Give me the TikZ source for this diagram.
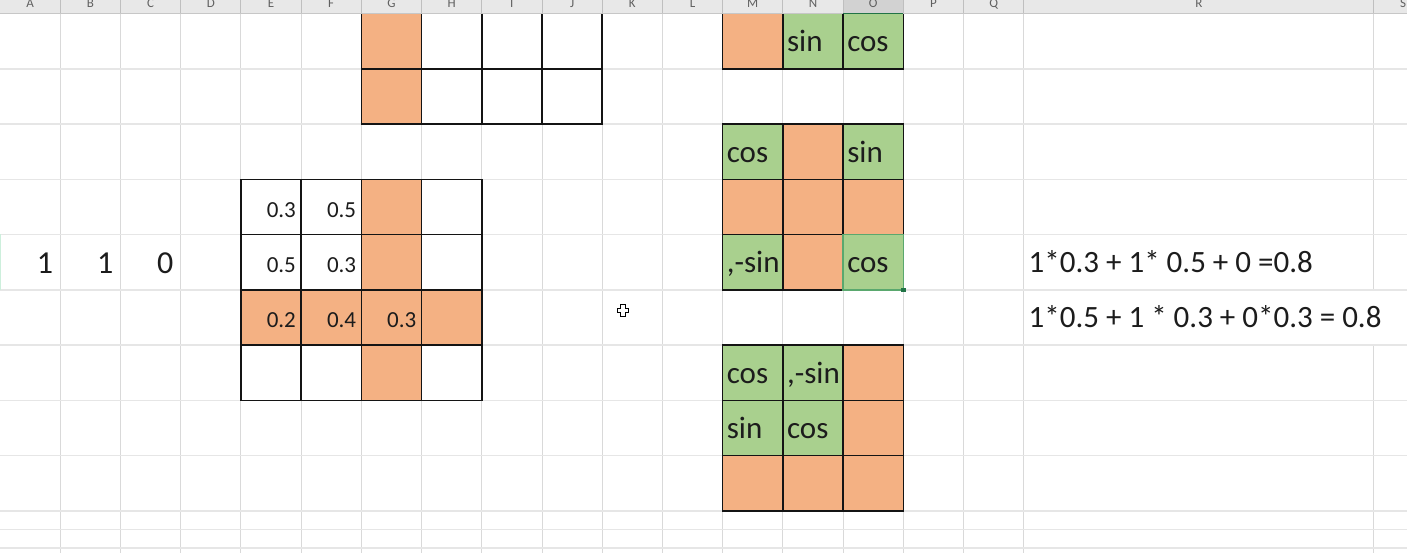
\documentclass[tikz,border=0pt]{standalone}
\usepackage{fontspec}
\setmainfont{Carlito}
\usetikzlibrary{calc}
\definecolor{orng}{HTML}{F4B183}
\definecolor{grn}{HTML}{A9D08E}
\definecolor{vline}{HTML}{D9D9D9}
\definecolor{hline}{HTML}{E6E6E6}
\definecolor{hdr}{HTML}{E8E8E8}
\definecolor{hdrsel}{HTML}{D2D2D2}
\definecolor{hdrtext}{HTML}{606060}
\definecolor{selg}{HTML}{5AA86E}
\definecolor{seldark}{HTML}{217346}
\definecolor{mint}{HTML}{CDEFDC}
\definecolor{ink}{HTML}{1C1C1C}
\newcommand\xcell[4]{\node[cellbox,#4] (#1) at ({#2*60.22},{13.5+#3*55.27}) {};}
\newcommand\ltext[2]{\node[bigtxt,anchor=base west] (t#1) at ($(#1.north west)+(4,38)$) {#2};}
\newcommand\rtext[2]{\node[smalltxt,anchor=base east] (t#1) at ($(#1.north east)+(-5,38)$) {#2};}
\begin{document}
\begin{tikzpicture}[x=1pt,y=-1pt,
  cellbox/.style={draw=black!92,line width=1.6pt,minimum width=60.22pt,minimum height=55.27pt,anchor=north west,inner sep=0pt,outer sep=0pt},
  og/.style={fill=orng},
  gr/.style={fill=grn},
  wh/.style={fill=white},
  bigtxt/.style={inner sep=0pt,text=ink,font=\fontsize{31}{31}\selectfont},
  smalltxt/.style={inner sep=0pt,text=ink,font=\fontsize{23}{23}\selectfont},
  numtxt/.style={inner sep=0pt,text=ink,font=\fontsize{32}{32}\selectfont,anchor=base east},
  hdrtxt/.style={inner sep=0pt,text=hdrtext,font=\fontsize{13}{13}\selectfont,anchor=base},
  vgrid/.style={draw=vline,line width=0.9pt},
  hgrid/.style={draw=hline,line width=1.6pt}]
\useasboundingbox (0,0) rectangle (1407,553);
\clip (0,0) rectangle (1407,553);
\fill[white] (0,0) rectangle (1407,553);
% gridlines
\foreach \i in {1,...,17} \draw[vgrid] ({\i*60.22},13.5) -- ({\i*60.22},553);
\draw[vgrid] (1373.7,13.5) -- (1373.7,289.8);
\draw[vgrid] (1373.7,345) -- (1373.7,553);
\foreach \j in {1,...,9} \draw[hgrid] (0,{13.5+\j*55.27}) -- (1407,{13.5+\j*55.27});
\draw[hgrid] (0,529.5) -- (1407,529.5);
\draw[hgrid] (0,548.2) -- (1407,548.2);
\draw[draw=mint,line width=1.5pt] (0.7,234.5) -- (0.7,289.8);
% top middle grid
\xcell{g0}{6}{0}{og} \xcell{h0}{7}{0}{wh} \xcell{i0}{8}{0}{wh} \xcell{j0}{9}{0}{wh}
\xcell{g1}{6}{1}{og} \xcell{h1}{7}{1}{wh} \xcell{i1}{8}{1}{wh} \xcell{j1}{9}{1}{wh}
% upper right small
\xcell{m0}{12}{0}{og} \xcell{n0}{13}{0}{gr} \xcell{o0}{14}{0}{gr}
% upper right 3x3
\xcell{m2}{12}{2}{gr} \xcell{n2}{13}{2}{og} \xcell{o2}{14}{2}{gr}
\xcell{m3}{12}{3}{og} \xcell{n3}{13}{3}{og} \xcell{o3}{14}{3}{og}
\xcell{m4}{12}{4}{gr} \xcell{n4}{13}{4}{og}
\xcell{o4}{14}{4}{gr,draw=selg,line width=1.3pt}
\fill[seldark] ($(o4.south east)+(-2.3,-2.3)$) rectangle ($(o4.south east)+(2.3,2.3)$);
% left grid
\xcell{e3}{4}{3}{wh} \xcell{f3}{5}{3}{wh} \xcell{g3}{6}{3}{og} \xcell{h3}{7}{3}{wh}
\xcell{e4}{4}{4}{wh} \xcell{f4}{5}{4}{wh} \xcell{g4}{6}{4}{og} \xcell{h4}{7}{4}{wh}
\xcell{e5}{4}{5}{og} \xcell{f5}{5}{5}{og} \xcell{g5}{6}{5}{og} \xcell{h5}{7}{5}{og}
\xcell{e6}{4}{6}{wh} \xcell{f6}{5}{6}{wh} \xcell{g6}{6}{6}{og} \xcell{h6}{7}{6}{wh}
% lower right grid
\xcell{m6}{12}{6}{gr} \xcell{n6}{13}{6}{gr} \xcell{o6}{14}{6}{og}
\xcell{m7}{12}{7}{gr} \xcell{n7}{13}{7}{gr} \xcell{o7}{14}{7}{og}
\xcell{m8}{12}{8}{og} \xcell{n8}{13}{8}{og} \xcell{o8}{14}{8}{og}
% texts
\ltext{n0}{sin} \ltext{o0}{cos}
\ltext{m2}{cos} \ltext{o2}{sin}
\ltext{m4}{,-sin} \ltext{o4}{cos}
\ltext{m6}{cos} \ltext{n6}{,-sin}
\ltext{m7}{sin} \ltext{n7}{cos}
\rtext{e3}{0.3} \rtext{f3}{0.5}
\rtext{e4}{0.5} \rtext{f4}{0.3}
\rtext{e5}{0.2} \rtext{f5}{0.4} \rtext{g5}{0.3}
\node[numtxt] (na) at ({1*60.22-7},273.3) {1};
\node[numtxt] (nb) at ({2*60.22-7},273.3) {1};
\node[numtxt] (nc) at ({3*60.22-7},273.3) {0};
\node[bigtxt,anchor=base west] (f1) at (1028.5,272.2) {1*0.3 + 1* 0.5 + 0 =0.8};
\node[bigtxt,anchor=base west] (f2) at (1028.5,327.5) {1*0.5 + 1 * 0.3 + 0*0.3 = 0.8};
% header
\fill[hdr] (0,0) rectangle (1407,13.8);
\fill[hdrsel] ({14*60.22},0) rectangle ({15*60.22},13.8);
\foreach \i in {1,...,17} \draw[draw=black!25,line width=0.9pt] ({\i*60.22},0) -- ({\i*60.22},13.8);
\draw[draw=black!25,line width=0.9pt] (1373.7,0) -- (1373.7,13.8);
\draw[draw=black!22,line width=1pt] (0,13.8) -- (1407,13.8);
\draw[draw=seldark,line width=1.4pt] ({14*60.22},13.6) -- ({15*60.22},13.6);
\foreach \l [count=\k from 0] in {A,B,C,D,E,F,G,H,I,J,K,L,M,N,O,P,Q}
  \node[hdrtxt] (hd\l) at ({(\k+0.5)*60.22},7.8) {\l};
\node[hdrtxt] (hdR) at (1199,7.8) {R};
\node[hdrtxt] (hdS) at (1403,7.8) {S};
% cursor
\draw[shift={(623,310.5)},draw=black,line width=0.8pt,fill=white]
  (-2.2,-5.8) -- (2.2,-5.8) -- (2.2,-2.2) -- (5.8,-2.2) -- (5.8,2.2) -- (2.2,2.2)
  -- (2.2,5.8) -- (-2.2,5.8) -- (-2.2,2.2) -- (-5.8,2.2) -- (-5.8,-2.2) -- (-2.2,-2.2) -- cycle;
\end{tikzpicture}
\end{document}
